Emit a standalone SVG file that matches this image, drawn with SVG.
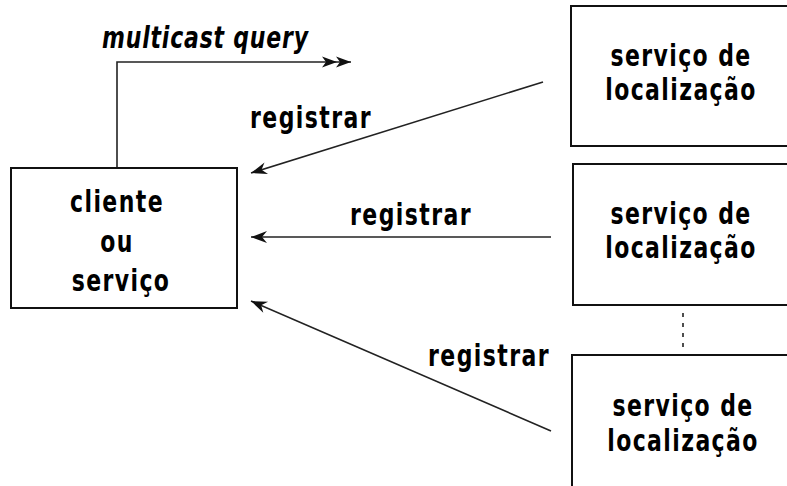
<svg xmlns="http://www.w3.org/2000/svg" width="787" height="486" viewBox="0 0 787 486">
<style>
  .box { fill: #fff; stroke: #111; stroke-width: 2; }
  .lbl { font-family: "DejaVu Sans", "Liberation Sans", sans-serif; font-weight: bold; font-size: 22px; letter-spacing: 1.4px; fill: #000; text-anchor: middle; }
  .it { font-style: italic; text-anchor: start; letter-spacing: 0.8px; }
  .conn { fill: none; stroke: #222; stroke-width: 1.6; }
  .dot { fill: none; stroke: #222; stroke-width: 1.6; stroke-dasharray: 4 6; }
</style>
<defs>
  <marker id="ah" markerUnits="userSpaceOnUse" markerWidth="20" markerHeight="16" viewBox="-17 -8 20 16" refX="0" refY="0" orient="auto">
    <path d="M0,0 L-16,-6 L-11,0 L-16,6 Z" fill="#111"/>
  </marker>
  <marker id="dbl" markerUnits="userSpaceOnUse" markerWidth="36" markerHeight="16" viewBox="-32 -8 36 16" refX="0" refY="0" orient="auto">
    <path d="M0,0 L-15,-5.5 L-11,0 L-15,5.5 Z M-14,0 L-29,-5.5 L-25,0 L-29,5.5 Z" fill="#111"/>
  </marker>
</defs>
<g id="connectors">
  <path class="conn" d="M117,168 L117,62 L351,62" marker-end="url(#dbl)"/>
  <line class="conn" x1="543" y1="82" x2="251" y2="173" marker-end="url(#ah)"/>
  <line class="conn" x1="551" y1="237" x2="251" y2="237" marker-end="url(#ah)"/>
  <line class="conn" x1="551" y1="431" x2="251" y2="301" marker-end="url(#ah)"/>
  <line class="dot" x1="683" y1="313" x2="683" y2="348"/>
  <text class="lbl it" transform="translate(102,48) scale(1,1.33)">multicast query</text>
  <text class="lbl" transform="translate(311,128) scale(1,1.33)">registrar</text>
  <text class="lbl" transform="translate(411,225) scale(1,1.33)">registrar</text>
  <text class="lbl" transform="translate(489,366) scale(1,1.33)">registrar</text>
</g>
<g id="cliente">
  <rect class="box" x="11" y="168" width="226" height="140"/>
  <text class="lbl" transform="translate(117,212) scale(1,1.33)">cliente</text>
  <text class="lbl" transform="translate(117,252) scale(1,1.33)">ou</text>
  <text class="lbl" transform="translate(121,291) scale(1,1.33)">serviço</text>
</g>
<g id="servico1">
  <rect class="box" x="571" y="6" width="240" height="140"/>
  <text class="lbl" transform="translate(681,66) scale(1,1.33)">serviço de</text>
  <text class="lbl" transform="translate(681,100) scale(1,1.33)">localização</text>
</g>
<g id="servico2">
  <rect class="box" x="573" y="164" width="240" height="141"/>
  <text class="lbl" transform="translate(681,224) scale(1,1.33)">serviço de</text>
  <text class="lbl" transform="translate(681,258) scale(1,1.33)">localização</text>
</g>
<g id="servico3">
  <rect class="box" x="572" y="355" width="240" height="140"/>
  <text class="lbl" transform="translate(683,416) scale(1,1.33)">serviço de</text>
  <text class="lbl" transform="translate(683,451) scale(1,1.33)">localização</text>
</g>
</svg>
